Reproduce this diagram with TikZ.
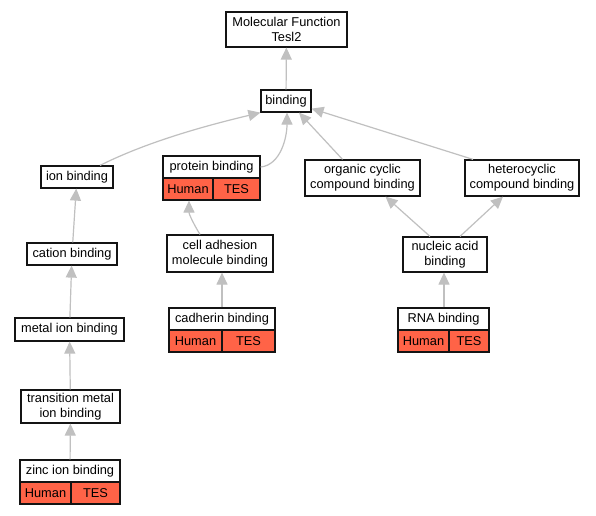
\documentclass[tikz,border=0pt]{standalone}
\usepackage{fontspec}
\setmainfont{Liberation Sans}
\usetikzlibrary{arrows.meta}
\definecolor{edgegray}{HTML}{C0C0C0}
\definecolor{boxline}{HTML}{141414}
\definecolor{tomatofill}{HTML}{FF6347}
\begin{document}
\begin{tikzpicture}[x=1pt,y=-1pt,
  every node/.style={font=\fontsize{12.8}{15}\selectfont, inner sep=0pt},
  term/.style={draw=boxline, line width=1.2pt, fill=white, align=center},
  cell/.style={draw=boxline, line width=1.2pt, fill=tomatofill, minimum height=22pt},
  isa/.style={draw=edgegray, line width=1.2pt, -{Triangle[length=12pt,width=11pt]}}
]
\fill[white] (0,0) rectangle (596,515);
\useasboundingbox (0,0) rectangle (596,515);

% nodes
\node[term, minimum width=121pt, minimum height=35pt] (mf) at (286.5,29.5) {Molecular Function\\Tesl2};
\node[term, minimum width=50pt, minimum height=22pt] (bind) at (286,101) {binding};
\node[term, minimum width=72pt, minimum height=22pt] (ion) at (77,177) {ion binding};
\node[term, minimum width=97pt, minimum height=22pt] (prot) at (211.5,167) {protein binding};
\node[cell, minimum width=50pt] (protH) at (188,189) {Human};
\node[cell, minimum width=47pt] (protT) at (236.5,189) {TES};
\node[term, minimum width=115pt, minimum height=36pt] (org) at (362.5,178) {organic cyclic\\compound binding};
\node[term, minimum width=114pt, minimum height=36pt] (het) at (522,178) {heterocyclic\\compound binding};
\node[term, minimum width=90pt, minimum height=22pt] (cat) at (72,254) {cation binding};
\node[term, minimum width=106pt, minimum height=37pt] (cam) at (220,253.5) {cell adhesion\\molecule binding};
\node[term, minimum width=109pt, minimum height=23pt] (met) at (69.5,329.5) {metal ion binding};
\node[term, minimum width=106pt, minimum height=22pt] (cad) at (222,319) {cadherin binding};
\node[cell, minimum width=53pt] (cadH) at (195.5,341) {Human};
\node[cell, minimum width=53pt] (cadT) at (248.5,341) {TES};
\node[term, minimum width=84pt, minimum height=35pt] (nuc) at (445,254.5) {nucleic acid\\binding};
\node[term, minimum width=91pt, minimum height=22pt] (rna) at (443.5,319) {RNA binding};
\node[cell, minimum width=51pt] (rnaH) at (423.5,341) {Human};
\node[cell, minimum width=40pt] (rnaT) at (469,341) {TES};
\node[term, minimum width=99pt, minimum height=33pt] (tmi) at (70.5,406.5) {transition metal\\ion binding};
\node[term, minimum width=100pt, minimum height=22pt] (zinc) at (70,471) {zinc ion binding};
\node[cell, minimum width=51pt] (zincH) at (45.5,493) {Human};
\node[cell, minimum width=49pt] (zincT) at (95.5,493) {TES};

% edges
\draw[isa] (bind) -- (mf);
\draw[isa] ([xshift=23pt]ion.north) .. controls +(50,-25) and +(-50,12) .. (bind.south west);
\draw[isa] (prot.east) .. controls +(20,-2) and +(0,25) .. ([xshift=1pt]bind.south);
\draw[isa] ([xshift=-20pt]org.north) -- ([xshift=13pt]bind.south);
\draw[isa] ([xshift=-49pt]het.north) -- ([yshift=4pt]bind.south east);
\draw[isa] (cat) -- (ion);
\draw[isa] (met) -- (cat);
\draw[isa] (tmi) -- (met);
\draw[isa] (zinc) -- (tmi);
\draw[isa] ([xshift=-20pt]cam.north) .. controls +(-5,-8) and +(0,14) .. ([xshift=1pt]protH.south);
\draw[isa] (cad.north) -- (cad.north |- cam.south);
\draw[isa] ([xshift=-15pt]nuc.north) -- ([xshift=23pt]org.south);
\draw[isa] ([xshift=15pt]nuc.north) -- ([xshift=-19pt]het.south);
\draw[isa] ([xshift=0.5pt]rna.north) -- ([xshift=0.5pt]rna.north |- nuc.south);
\end{tikzpicture}
\end{document}
